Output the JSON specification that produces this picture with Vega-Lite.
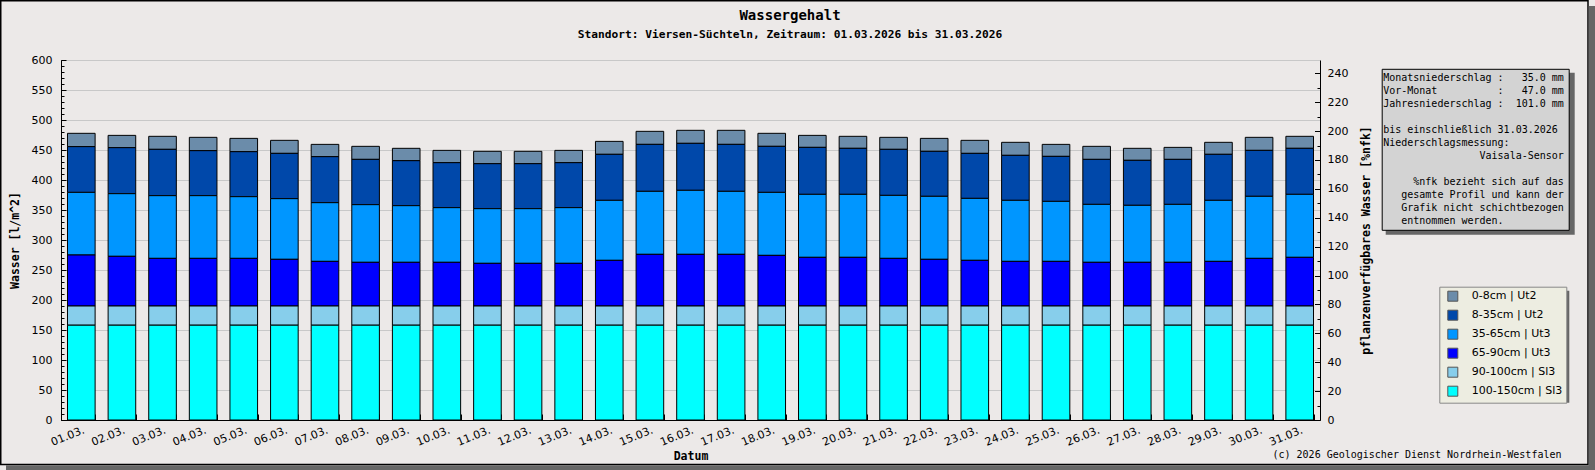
{
  "$schema": "https://vega.github.io/schema/vega-lite/v6.json",
  "width": 1259,
  "height": 360,
  "autosize": {"type": "none"},
  "padding": {"left": 61, "top": 60, "right": 275, "bottom": 50},
  "background": "#ECE9E8",
  "config": {
    "view": {"stroke": null, "fill": "white"},
    "font": "DejaVu Sans",
    "axis": {
      "labelFont": "DejaVu Sans", "labelFontSize": 11, "labelColor": "#000",
      "domainColor": "#000", "tickColor": "#000",
      "titleFont": "DejaVu Sans Mono", "titleFontWeight": "bold", "titleFontSize": 11.5, "titleColor": "#000"
    },
    "legend": {"labelFont": "DejaVu Sans", "labelFontSize": 11, "labelColor": "#000"}
  },
  "title": {
    "text": "Wassergehalt",
    "subtitle": "Standort: Viersen-Süchteln, Zeitraum: 01.03.2026 bis 31.03.2026",
    "anchor": "middle", "dx": 99.5, "dy": 53, "offset": 14,
    "font": "DejaVu Sans Mono", "fontSize": 14, "fontWeight": "bold", "color": "#000",
    "subtitleFont": "DejaVu Sans Mono", "subtitleFontSize": 11.2, "subtitleFontWeight": "bold",
    "subtitleColor": "#000", "subtitlePadding": 6
  },
  "datasets": {
    "tage": [
      {"Datum": "01.03.", "t0": 22.2, "t8": 76.2, "t35": 104.4, "t65": 85.0, "t90": 32, "t100": 158},
      {"Datum": "02.03.", "t0": 20.5, "t8": 76.7, "t35": 104.4, "t65": 82.8, "t90": 32, "t100": 158},
      {"Datum": "03.03.", "t0": 21.7, "t8": 77.2, "t35": 104.5, "t65": 79.4, "t90": 32, "t100": 158},
      {"Datum": "04.03.", "t0": 22.2, "t8": 75.0, "t35": 104.5, "t65": 79.4, "t90": 32, "t100": 158},
      {"Datum": "05.03.", "t0": 22.2, "t8": 75.0, "t35": 102.8, "t65": 79.4, "t90": 32, "t100": 158},
      {"Datum": "06.03.", "t0": 21.7, "t8": 75.5, "t35": 101.1, "t65": 77.8, "t90": 32, "t100": 158},
      {"Datum": "07.03.", "t0": 20.5, "t8": 76.7, "t35": 97.8, "t65": 74.4, "t90": 32, "t100": 158},
      {"Datum": "08.03.", "t0": 21.7, "t8": 75.5, "t35": 96.1, "t65": 72.8, "t90": 32, "t100": 158},
      {"Datum": "09.03.", "t0": 20.6, "t8": 75.0, "t35": 94.4, "t65": 72.8, "t90": 32, "t100": 158},
      {"Datum": "10.03.", "t0": 20.5, "t8": 75.0, "t35": 91.1, "t65": 72.8, "t90": 32, "t100": 158},
      {"Datum": "11.03.", "t0": 20.6, "t8": 75.0, "t35": 91.1, "t65": 71.1, "t90": 32, "t100": 158},
      {"Datum": "12.03.", "t0": 20.6, "t8": 75.0, "t35": 91.1, "t65": 71.1, "t90": 32, "t100": 158},
      {"Datum": "13.03.", "t0": 20.5, "t8": 75.0, "t35": 92.8, "t65": 71.1, "t90": 32, "t100": 158},
      {"Datum": "14.03.", "t0": 21.6, "t8": 76.7, "t35": 100.0, "t65": 76.1, "t90": 32, "t100": 158},
      {"Datum": "15.03.", "t0": 21.7, "t8": 78.3, "t35": 105.0, "t65": 86.1, "t90": 32, "t100": 158},
      {"Datum": "16.03.", "t0": 21.7, "t8": 78.3, "t35": 106.7, "t65": 86.1, "t90": 32, "t100": 158},
      {"Datum": "17.03.", "t0": 23.4, "t8": 78.3, "t35": 105.0, "t65": 86.1, "t90": 32, "t100": 158},
      {"Datum": "18.03.", "t0": 21.7, "t8": 76.7, "t35": 105.0, "t65": 84.4, "t90": 32, "t100": 158},
      {"Datum": "19.03.", "t0": 20.0, "t8": 78.3, "t35": 105.0, "t65": 81.1, "t90": 32, "t100": 158},
      {"Datum": "20.03.", "t0": 20.0, "t8": 76.7, "t35": 105.0, "t65": 81.1, "t90": 32, "t100": 158},
      {"Datum": "21.03.", "t0": 20.0, "t8": 76.7, "t35": 105.0, "t65": 79.4, "t90": 32, "t100": 158},
      {"Datum": "22.03.", "t0": 21.6, "t8": 75.0, "t35": 105.0, "t65": 77.8, "t90": 32, "t100": 158},
      {"Datum": "23.03.", "t0": 21.7, "t8": 75.0, "t35": 103.3, "t65": 76.1, "t90": 32, "t100": 158},
      {"Datum": "24.03.", "t0": 21.7, "t8": 75.0, "t35": 101.7, "t65": 74.4, "t90": 32, "t100": 158},
      {"Datum": "25.03.", "t0": 20.0, "t8": 75.0, "t35": 100.0, "t65": 74.4, "t90": 32, "t100": 158},
      {"Datum": "26.03.", "t0": 21.7, "t8": 75.0, "t35": 96.6, "t65": 72.8, "t90": 32, "t100": 158},
      {"Datum": "27.03.", "t0": 20.0, "t8": 75.0, "t35": 95.0, "t65": 72.8, "t90": 32, "t100": 158},
      {"Datum": "28.03.", "t0": 20.0, "t8": 75.0, "t35": 96.6, "t65": 72.8, "t90": 32, "t100": 158},
      {"Datum": "29.03.", "t0": 20.0, "t8": 76.7, "t35": 101.7, "t65": 74.4, "t90": 32, "t100": 158},
      {"Datum": "30.03.", "t0": 21.7, "t8": 76.6, "t35": 103.4, "t65": 79.4, "t90": 32, "t100": 158},
      {"Datum": "31.03.", "t0": 20.0, "t8": 76.7, "t35": 105.0, "t65": 81.1, "t90": 32, "t100": 158}
    ],
    "schichten": [
      {"key": "t0", "Schicht": "0-8cm | Ut2", "von": 0},
      {"key": "t8", "Schicht": "8-35cm | Ut2", "von": 8},
      {"key": "t35", "Schicht": "35-65cm | Ut3", "von": 35},
      {"key": "t65", "Schicht": "65-90cm | Ut3", "von": 65},
      {"key": "t90", "Schicht": "90-100cm | Sl3", "von": 90},
      {"key": "t100", "Schicht": "100-150cm | Sl3", "von": 100}
    ],
    "info": [
      {"zeile": "Monatsniederschlag\u00a0:\u00a0\u00a0\u00a035.0\u00a0mm"},
      {"zeile": "Vor-Monat\u00a0\u00a0\u00a0\u00a0\u00a0\u00a0\u00a0\u00a0\u00a0\u00a0:\u00a0\u00a0\u00a047.0\u00a0mm"},
      {"zeile": "Jahresniederschlag\u00a0:\u00a0\u00a0101.0\u00a0mm"},
      {"zeile": "\u2800"},
      {"zeile": "bis\u00a0einschließlich\u00a031.03.2026"},
      {"zeile": "Niederschlagsmessung:"},
      {"zeile": "\u200b\u00a0\u00a0\u00a0\u00a0\u00a0\u00a0\u00a0\u00a0\u00a0\u00a0\u00a0\u00a0\u00a0\u00a0\u00a0\u00a0Vaisala-Sensor"},
      {"zeile": "\u2800\u2800"},
      {"zeile": "\u200b\u00a0\u00a0\u00a0\u00a0\u00a0%nfk\u00a0bezieht\u00a0sich\u00a0auf\u00a0das"},
      {"zeile": "\u200b\u00a0\u00a0\u00a0gesamte\u00a0Profil\u00a0und\u00a0kann\u00a0der"},
      {"zeile": "\u200b\u00a0\u00a0\u00a0Grafik\u00a0nicht\u00a0schichtbezogen"},
      {"zeile": "\u200b\u00a0\u00a0\u00a0entnommen\u00a0werden."}
    ],
    "quelle": [
      {"text": "(c)\u00a02026\u00a0Geologischer\u00a0Dienst\u00a0Nordrhein-Westfalen"}
    ]
  },
  "layer": [
    {
      "data": {"name": "tage"},
      "transform": [
        {"fold": ["t0", "t8", "t35", "t65", "t90", "t100"], "as": ["key", "Wasser"]},
        {"lookup": "key", "from": {"data": {"name": "schichten"}, "key": "key", "fields": ["Schicht", "von"]}}
      ],
      "mark": {"type": "bar", "stroke": "#000", "strokeWidth": 1},
      "encoding": {
        "x": {
          "field": "Datum", "type": "ordinal", "sort": null,
          "scale": {"paddingInner": 0.32, "paddingOuter": 0.16},
          "axis": {
            "title": "Datum", "labelAngle": -22, "labelAlign": "right", "labelBaseline": "top",
            "tickBand": "extent", "tickSize": -6, "labelPadding": 10, "titlePadding": 3, "grid": false
          }
        },
        "y": {
          "field": "Wasser", "type": "quantitative", "stack": "zero",
          "scale": {"domain": [0, 600], "nice": false},
          "axis": {
            "orient": "left", "title": "Wasser [l/m^2]",
            "values": [0, 50, 100, 150, 200, 250, 300, 350, 400, 450, 500, 550, 600],
            "tickSize": -5, "labelPadding": 14, "titlePadding": 11,
            "grid": true, "gridColor": "#c8c8c8"
          }
        },
        "color": {
          "field": "Schicht", "type": "nominal",
          "scale": {
            "domain": ["0-8cm | Ut2", "8-35cm | Ut2", "35-65cm | Ut3", "65-90cm | Ut3", "90-100cm | Sl3", "100-150cm | Sl3"],
            "range": ["#6B8CAA", "#0048AA", "#0096FF", "#0000FF", "#87CEEB", "#00FFFF"]
          },
          "legend": {
            "title": null, "orient": "none", "legendX": 1378.3, "legendY": 226.7, "zindex": 2,
            "fillColor": "#EDEDE1", "strokeColor": "#888", "padding": 4,
            "symbolType": "square", "symbolSize": 100, "symbolStrokeColor": "#555", "symbolStrokeWidth": 1,
            "symbolOffset": 4, "labelOffset": 13.5, "rowPadding": 4
          }
        },
        "order": {"field": "von", "type": "quantitative", "sort": "descending"}
      }
    },
    {
      "data": {"name": "tage"},
      "mark": {"type": "point", "opacity": 0},
      "encoding": {
        "y": {
          "field": "t100", "type": "quantitative",
          "scale": {"domain": [0, 600], "nice": false},
          "axis": {
            "orient": "left", "title": null, "labels": false, "domain": false, "grid": false,
            "values": [0, 10, 20, 30, 40, 50, 60, 70, 80, 90, 100, 110, 120, 130, 140, 150, 160, 170, 180, 190, 200, 210, 220, 230, 240, 250, 260, 270, 280, 290, 300, 310, 320, 330, 340, 350, 360, 370, 380, 390, 400, 410, 420, 430, 440, 450, 460, 470, 480, 490, 500, 510, 520, 530, 540, 550, 560, 570, 580, 590, 600],
            "tickSize": -3
          }
        }
      }
    },
    {
      "data": {"name": "tage"},
      "mark": {"type": "point", "opacity": 0},
      "encoding": {
        "y": {
          "field": "t90", "type": "quantitative",
          "scale": {"domain": [0, 249.2], "nice": false},
          "axis": {
            "orient": "right", "title": "pflanzenverfügbares Wasser [%nfk]", "titleAngle": 270,
            "titleX": 46, "titleY": 180, "titleAlign": "center", "titleBaseline": "middle",
            "values": [0, 20, 40, 60, 80, 100, 120, 140, 160, 180, 200, 220, 240],
            "tickSize": -5.5, "labelPadding": 12.5, "grid": false
          }
        }
      }
    },
    {
      "data": {"name": "tage"},
      "mark": {"type": "point", "opacity": 0},
      "encoding": {
        "y": {
          "field": "t0", "type": "quantitative",
          "scale": {"domain": [0, 249.2], "nice": false},
          "axis": {
            "orient": "right", "title": null, "labels": false, "domain": false, "grid": false,
            "values": [10, 30, 50, 70, 90, 110, 130, 150, 170, 190, 210, 230],
            "tickSize": -3
          }
        }
      }
    },
    {
      "data": {"name": "tage"},
      "mark": {"type": "point", "opacity": 0, "size": 0, "strokeWidth": 0},
      "encoding": {
        "stroke": {
          "field": "t0", "type": "quantitative", "scale": {"range": ["rgba(0,0,0,0)", "rgba(0,0,0,0)"]},
          "legend": {
            "type": "gradient", "title": null, "orient": "none", "direction": "vertical",
            "legendX": -60.25, "legendY": -59.25, "padding": 0, "zindex": 0, "values": [],
            "gradientThickness": 1587.25, "gradientLength": 463.75,
            "gradientStrokeColor": "#000", "gradientStrokeWidth": 1.5
          }
        }
      }
    },
    {
      "data": {"name": "tage"},
      "mark": {"type": "point", "opacity": 0, "size": 0, "strokeWidth": 0},
      "encoding": {
        "stroke": {
          "field": "t8", "type": "quantitative", "scale": {"range": ["#666", "#666"]},
          "legend": {
            "type": "gradient", "title": null, "orient": "none", "direction": "vertical",
            "legendX": 1527.75, "legendY": -54, "padding": 0, "zindex": 0, "values": [],
            "gradientThickness": 6.25, "gradientLength": 464, "gradientStrokeWidth": 0
          }
        }
      }
    },
    {
      "data": {"name": "tage"},
      "mark": {"type": "point", "opacity": 0, "size": 0, "strokeWidth": 0},
      "encoding": {
        "stroke": {
          "field": "t35", "type": "quantitative", "scale": {"range": ["#666", "#666"]},
          "legend": {
            "type": "gradient", "title": null, "orient": "none", "direction": "vertical",
            "legendX": -55, "legendY": 405.25, "padding": 0, "zindex": 0, "values": [],
            "gradientThickness": 1589, "gradientLength": 4.75, "gradientStrokeWidth": 0
          }
        }
      }
    },
    {
      "data": {"name": "tage"},
      "mark": {"type": "point", "opacity": 0, "size": 0, "strokeWidth": 0},
      "encoding": {
        "stroke": {
          "field": "t65", "type": "quantitative", "scale": {"range": ["#666", "#666"]},
          "legend": {
            "type": "gradient", "title": null, "orient": "none", "direction": "vertical",
            "legendX": 1324.7, "legendY": 12.8, "padding": 0, "zindex": 1, "values": [],
            "gradientThickness": 189, "gradientLength": 162, "gradientStrokeWidth": 0
          }
        }
      }
    },
    {
      "data": {"name": "tage"},
      "mark": {"type": "point", "opacity": 0, "size": 0, "strokeWidth": 0},
      "encoding": {
        "stroke": {
          "field": "t100", "type": "quantitative", "scale": {"range": ["#666", "#666"]},
          "legend": {
            "type": "gradient", "title": null, "orient": "none", "direction": "vertical",
            "legendX": 1382.3, "legendY": 230.7, "padding": 0, "zindex": 1, "values": [],
            "gradientThickness": 126, "gradientLength": 112, "gradientStrokeWidth": 0
          }
        }
      }
    },
    {
      "data": {"name": "info"},
      "mark": {"type": "point", "opacity": 0, "size": 0, "strokeWidth": 0},
      "encoding": {
        "shape": {
          "field": "zeile", "type": "nominal", "sort": null,
          "legend": {
            "title": null, "orient": "none", "legendX": 1320.7, "legendY": 8.8, "zindex": 2,
            "fillColor": "#D3D3D3", "strokeColor": "#000", "padding": 4,
            "symbolSize": 0.001, "symbolOpacity": 0, "symbolStrokeWidth": 0, "labelOffset": -12.5,
            "labelFont": "DejaVu Sans Mono", "labelFontSize": 10, "labelLimit": 400, "rowPadding": 3
          }
        }
      }
    },
    {
      "data": {"name": "quelle"},
      "mark": {"type": "point", "opacity": 0, "size": 0, "strokeWidth": 0},
      "encoding": {
        "shape": {
          "field": "text", "type": "nominal",
          "legend": {
            "title": null, "orient": "none", "legendX": 1214, "legendY": 390,
            "padding": 0, "symbolSize": 0.001, "symbolOpacity": 0, "symbolStrokeWidth": 0, "labelOffset": -12.5,
            "labelFont": "DejaVu Sans Mono", "labelFontSize": 10, "labelLimit": 400
          }
        }
      }
    }
  ],
  "resolve": {
    "scale": {"y": "independent", "shape": "independent", "stroke": "independent"},
    "axis": {"y": "independent"},
    "legend": {"shape": "independent", "stroke": "independent"}
  }
}
